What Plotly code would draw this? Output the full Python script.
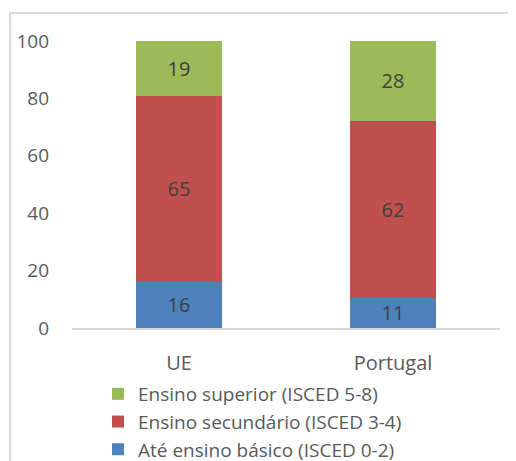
import plotly.graph_objects as go

categories = ["UE", "Portugal"]
basico = [16.1, 10.6]
secundario = [64.8, 61.6]
superior = [19.1, 27.8]
series_names = ["Até ensino básico (ISCED 0-2)", "Ensino secundário (ISCED 3-4)", "Ensino superior (ISCED 5-8)"]
series_colors = ["#4F81BD", "#C0504D", "#9BBB59"]
legend_ranks = [3, 2, 1]
y_ticks = [0, 20, 40, 60, 80, 100]

OFF = 8  # browser body margin
W, H = 516 - OFF, 461 - OFF
ml, mt = 72 - OFF, 41 - OFF
pw, ph = 428, 287
mr, mb = W - ml - pw, H - mt - ph

fig = go.Figure()
for i, (name, vals, col) in enumerate(zip(series_names, [basico, secundario, superior], series_colors)):
    fig.add_trace(go.Bar(
        x=categories, y=vals, name=name, legendgroup=f"g{i}", legendrank=legend_ranks[i],
        marker=dict(color=col, line=dict(width=0)),
        text=vals, texttemplate="%{y:.0f}",
        textposition="inside", insidetextanchor="middle", textangle=0,
        constraintext="none",
        textfont=dict(size=20, color="#404040", family="Open Sans"),
    ))

def px_x(x):
    return (x - OFF - ml) / pw

def px_y(y):
    return (H - mb - (y - OFF)) / ph

fig.add_shape(type="rect", xref="paper", yref="paper",
              x0=px_x(10), x1=px_x(540), y0=px_y(490), y1=px_y(13),
              line=dict(color="#D9D9D9", width=2), fillcolor="rgba(0,0,0,0)", layer="below")

fig.update_layout(
    width=W, height=H,
    margin=dict(l=ml, r=mr, t=mt, b=mb, autoexpand=False),
    barmode="stack", bargap=0.6,
    plot_bgcolor="white", paper_bgcolor="white",
    font=dict(family="Open Sans", size=18, color="#595959"),
    xaxis=dict(showline=True, linecolor="#D9D9D9", linewidth=1.5, ticks="",
               showgrid=False, ticklabelstandoff=16, automargin=False,
               tickfont=dict(size=20, color="#595959")),
    yaxis=dict(range=[0, 100], tickvals=y_ticks, showgrid=False, zeroline=False,
               showline=False, ticks="", ticklabelstandoff=22, automargin=False,
               tickfont=dict(size=19, color="#595959")),
    legend=dict(orientation="v", traceorder="grouped", tracegroupgap=0,
                x=px_x(98), xanchor="left",
                y=px_y(375), yanchor="top",
                font=dict(size=19, color="#595959"), itemwidth=30,
                bgcolor="rgba(0,0,0,0)"),
    showlegend=True,
)

fig.write_html("out.html")
